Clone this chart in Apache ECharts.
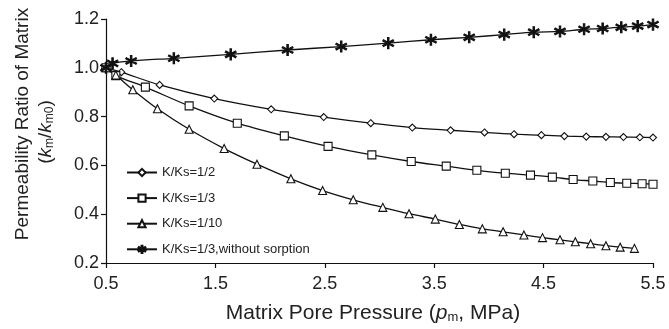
<!DOCTYPE html>
<html><head><meta charset="utf-8">
<script src="https://cdn.jsdelivr.net/npm/echarts@6/dist/echarts.min.js"></script>
<style>html,body{margin:0;padding:0;background:#fff}#c{width:669px;height:329px}</style>
</head><body><div id="c"></div>
<script>
var xTicks = [0.5, 1.5, 2.5, 3.5, 4.5, 5.5];
var yTicks = [0.2, 0.4, 0.6, 0.8, 1.0, 1.2];
var names = ['K/Ks=1/2', 'K/Ks=1/3', 'K/Ks=1/10', 'K/Ks=1/3,without sorption'];

var half_x = [0.5, 0.64, 0.99, 1.49, 2.01, 2.49, 2.92, 3.30, 3.65, 3.96, 4.23, 4.48, 4.69, 4.89, 5.07, 5.23, 5.38, 5.50];
var half_y = [1.0, 0.982, 0.93, 0.874, 0.83, 0.798, 0.773, 0.755, 0.744, 0.735, 0.728, 0.724, 0.72, 0.718, 0.717, 0.716, 0.715, 0.714];

var third_x = [0.5, 0.59, 0.86, 1.26, 1.70, 2.13, 2.53, 2.93, 3.29, 3.61, 3.89, 4.15, 4.38, 4.58, 4.77, 4.95, 5.11, 5.26, 5.40, 5.50];
var third_y = [1.0, 0.968, 0.921, 0.844, 0.773, 0.721, 0.678, 0.643, 0.616, 0.597, 0.58, 0.568, 0.56, 0.552, 0.542, 0.536, 0.53, 0.527, 0.525, 0.523];

var tenth_x = [0.5, 0.59, 0.745, 0.97, 1.26, 1.58, 1.88, 2.19, 2.48, 2.76, 3.03, 3.27, 3.51, 3.73, 3.94, 4.13, 4.32, 4.49, 4.65, 4.79, 4.93, 5.07, 5.20, 5.33];
var tenth_y = [1.0, 0.97, 0.91, 0.832, 0.748, 0.669, 0.605, 0.545, 0.497, 0.459, 0.428, 0.402, 0.38, 0.358, 0.34, 0.328, 0.315, 0.304, 0.295, 0.287, 0.279, 0.271, 0.265, 0.26];

var nosorp_x = [0.5, 0.56, 0.73, 1.12, 1.64, 2.16, 2.65, 3.08, 3.47, 3.82, 4.14, 4.41, 4.65, 4.87, 5.04, 5.21, 5.36, 5.50];
var nosorp_y = [1.0, 1.018, 1.028, 1.039, 1.055, 1.073, 1.087, 1.101, 1.115, 1.125, 1.136, 1.146, 1.149, 1.158, 1.161, 1.166, 1.171, 1.177];

function zip(a, b) { return a.map(function (v, i) { return [v, b[i]]; }); }

var asterisk = 'path://M8.8,20L11.2,20L11.2,0L8.8,0Z M18.1,16.1L19.3,14L1.9,3.9L0.7,6Z M0.7,14L1.9,16.1L19.3,6L18.1,3.9Z';

var font = 'Liberation Sans, Arial, sans-serif';
function mk(name, data, symbol, size, fill) {
  return {
    name: name, type: 'line', data: data, smooth: 0.3,
    symbol: symbol, symbolSize: size, showAllSymbol: true,
    lineStyle: { color: '#111', width: 1.3 },
    itemStyle: { color: fill, borderColor: '#111', borderWidth: 1.1 },
    emphasis: { disabled: true }, z: 2
  };
}

var chart = echarts.init(document.getElementById('c'), null, { renderer: 'canvas' });
chart.setOption({
  animation: false,
  backgroundColor: '#fff',
  grid: { left: 106, right: 16, top: 19, bottom: 66, containLabel: false },
  xAxis: {
    type: 'value', min: xTicks[0], max: xTicks[xTicks.length - 1], interval: 1,
    axisLine: { show: true, lineStyle: { color: '#111', width: 1.2 } },
    axisTick: { show: true, length: 5, inside: false, lineStyle: { color: '#111', width: 1.2 } },
    axisLabel: { color: '#222', fontSize: 18, fontFamily: font, margin: 12, formatter: function (v) { return v.toFixed(1); } },
    splitLine: { show: false }
  },
  yAxis: {
    type: 'value', min: yTicks[0], max: yTicks[yTicks.length - 1], interval: 0.2,
    axisLine: { show: true, lineStyle: { color: '#111', width: 1.2 } },
    axisTick: { show: true, length: 5, inside: false, lineStyle: { color: '#111', width: 1.2 } },
    axisLabel: { color: '#222', fontSize: 18, fontFamily: font, margin: 7, formatter: function (v) { return v.toFixed(1); } },
    splitLine: { show: false }
  },
  legend: {
    orient: 'vertical', left: 126, top: 166, padding: 0, itemWidth: 30, itemHeight: 9, itemGap: 12.6,
    data: names,
    textStyle: { color: '#222', fontSize: 13, fontFamily: font }
  },
  series: [
    mk(names[0], zip(half_x, half_y), 'diamond', 7, '#fff'),
    mk(names[1], zip(third_x, third_y), 'rect', 8, '#fff'),
    mk(names[2], zip(tenth_x, tenth_y), 'triangle', 8, '#fff'),
    mk(names[3], zip(nosorp_x, nosorp_y), asterisk, 11, '#111')
  ],
  graphic: [
    {
      type: 'text', x: 23, y: 124, rotation: Math.PI / 2,
      style: { text: 'Permeability Ratio of Matrix', fill: '#222', font: '19px ' + font, align: 'center', verticalAlign: 'middle' }
    },
    {
      type: 'text', x: 46, y: 132, rotation: Math.PI / 2,
      style: {
        text: '({i|k}{s|m}/{i|k}{s|m0})', fill: '#222', font: '19px ' + font, align: 'center', verticalAlign: 'middle',
        rich: {
          i: { fontSize: 19, fontStyle: 'italic', fontFamily: font, fill: '#222', verticalAlign: 'middle' },
          s: { fontSize: 12, fontFamily: font, fill: '#222', verticalAlign: 'bottom', padding: [6, 0, 0, 0] }
        }
      }
    },
    {
      type: 'text', x: 373, y: 313,
      style: {
        text: 'Matrix Pore Pressure ({i|p}{s|m}, MPa)', fill: '#222', font: '21px ' + font, align: 'center', verticalAlign: 'middle',
        rich: {
          i: { fontSize: 21, fontStyle: 'italic', fontFamily: font, fill: '#222' },
          s: { fontSize: 13, fontFamily: font, fill: '#222', verticalAlign: 'bottom', padding: [7, 0, 0, 0] }
        }
      }
    }
  ]
});
</script></body></html>
